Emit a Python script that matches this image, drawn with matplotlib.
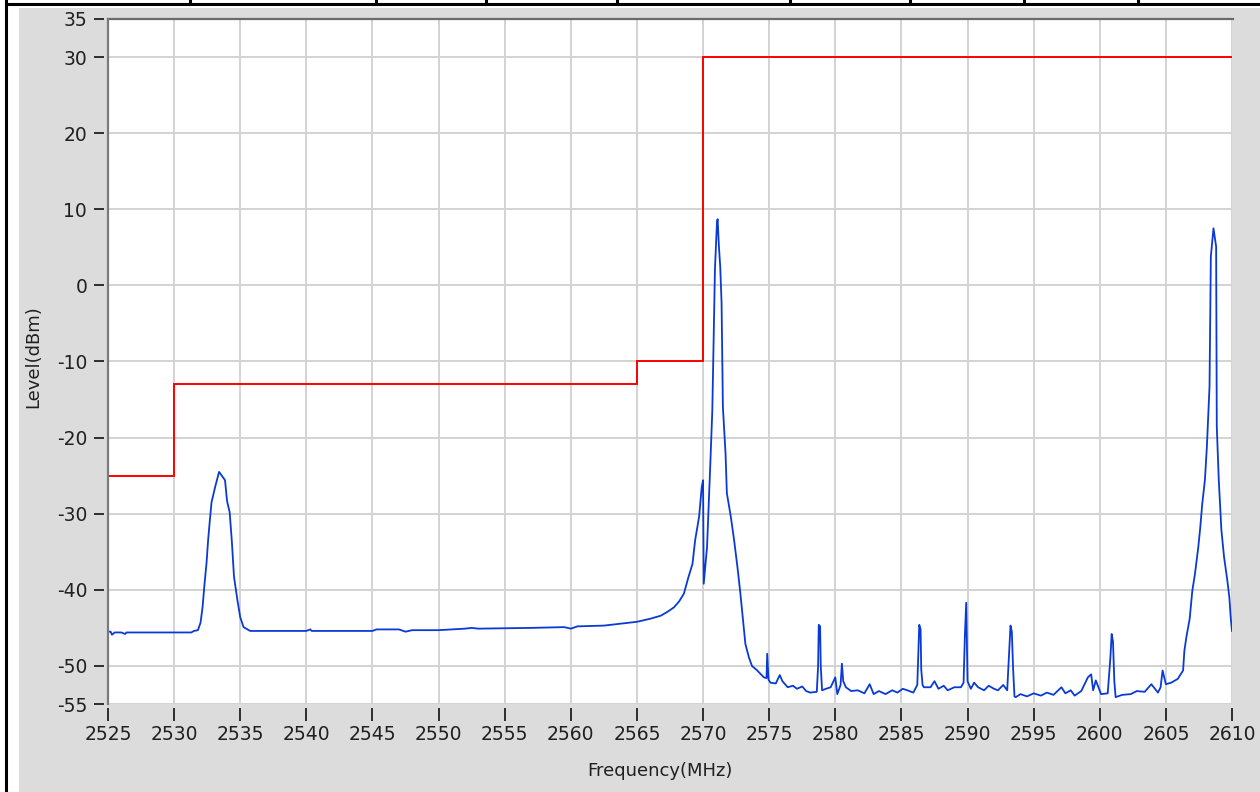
import matplotlib
matplotlib.use("Agg")
import matplotlib.pyplot as plt
from matplotlib.lines import Line2D
from matplotlib.patches import Rectangle

plt.rcParams["axes.unicode_minus"] = False

# ── Data ──────────────────────────────────────────────────────────────
# limit mask (step edges in MHz, level in dBm)
LIMIT_EDGES = [2525, 2530, 2565, 2570, 2610]
LIMIT_LEVELS = [-25, -13, -10, 30]

FREQ = [
    2525.0, 2525.2, 2525.3, 2525.5, 2526.0, 2526.3, 2526.4, 2531.3,
    2531.5, 2531.8, 2532.0, 2532.15, 2532.3, 2532.45, 2532.57, 2532.7, 2532.83,
    2533.1, 2533.4, 2533.6, 2533.85, 2534.0, 2534.2, 2534.36, 2534.53, 2534.79,
    2535.0, 2535.25, 2535.75,
    2540.0, 2540.3, 2540.4, 2545.0, 2545.3, 2547.0, 2547.5, 2548.0, 2550.0,
    2552.0, 2552.5, 2553.0, 2557.0, 2559.5, 2560.0, 2560.5, 2562.5, 2563.5,
    2564.5, 2565.0,
    2565.5, 2566.0, 2566.8, 2567.3, 2567.8, 2568.2, 2568.55, 2568.9, 2569.2,
    2569.4, 2569.7, 2569.9, 2570.0, 2570.05, 2570.3, 2570.4, 2570.55, 2570.7,
    2570.9, 2571.05, 2571.1, 2571.2, 2571.3, 2571.4, 2571.5, 2571.7, 2571.8,
    2572.1, 2572.35, 2572.6, 2572.8, 2573.1, 2573.2, 2573.47, 2573.7, 2574.1,
    2574.6, 2574.8, 2574.85, 2574.95, 2575.1, 2575.5, 2575.8, 2576.0, 2576.4,
    2576.8, 2577.1, 2577.5, 2577.8, 2578.1, 2578.6, 2578.7, 2578.75, 2578.85,
    2578.9, 2579.0, 2579.3, 2579.65, 2580.0, 2580.15, 2580.4, 2580.5, 2580.6,
    2580.8, 2581.2, 2581.7, 2582.2, 2582.6, 2582.9, 2583.3, 2583.8, 2584.3,
    2584.7, 2585.1, 2585.45, 2585.9, 2586.2, 2586.3, 2586.35, 2586.45, 2586.5,
    2586.6, 2586.7, 2587.2, 2587.5, 2587.8, 2588.2, 2588.5, 2589.0, 2589.5,
    2589.7, 2589.8, 2589.9, 2589.95, 2590.0, 2590.25, 2590.5, 2590.8, 2591.25,
    2591.6, 2592.0, 2592.3, 2592.7, 2593.0, 2593.15, 2593.25, 2593.35, 2593.45,
    2593.55, 2593.65, 2594.0, 2594.5, 2595.0, 2595.55, 2596.0, 2596.5, 2597.1,
    2597.4, 2597.8, 2598.1, 2598.6, 2599.1, 2599.35, 2599.5, 2599.7, 2600.1,
    2600.6, 2600.8, 2600.9, 2601.0, 2601.1, 2601.2, 2601.7, 2602.35, 2602.8,
    2603.4, 2603.9, 2604.4, 2604.6, 2604.75, 2605.0, 2605.4, 2605.9, 2606.3,
    2606.4, 2606.55, 2606.8, 2607.0, 2607.2, 2607.45, 2607.6, 2607.75, 2607.95,
    2608.1, 2608.3, 2608.4, 2608.6, 2608.8, 2608.85, 2609.0, 2609.2, 2609.4,
    2609.65, 2609.8, 2609.9, 2610.0,
]
LEVEL = [
    -45.5, -45.5, -45.9, -45.6, -45.6, -45.8, -45.6, -45.6,
    -45.4, -45.3, -44.3, -42.3, -39.2, -36.5, -33.5, -30.9, -28.5,
    -26.5, -24.5, -25.0, -25.6, -28.3, -29.8, -33.5, -38.3, -41.4,
    -43.6, -44.9, -45.4,
    -45.4, -45.2, -45.4, -45.4, -45.2, -45.2, -45.5, -45.3, -45.3,
    -45.1, -45.0, -45.1, -45.0, -44.9, -45.1, -44.8, -44.7, -44.5,
    -44.3, -44.2,
    -44.0, -43.8, -43.4, -42.9, -42.3, -41.5, -40.5, -38.3, -36.6,
    -33.5, -30.4, -26.5, -25.6, -39.2, -34.4, -30.0, -23.4, -16.4,
    2.2, 8.2, 8.7, 5.1, 2.4, -2.3, -16.0, -22.1, -27.3,
    -30.4, -33.5, -37.0, -40.1, -45.4, -47.1, -48.9, -50.0, -50.6,
    -51.5, -51.6, -48.4, -51.8, -52.2, -52.3, -51.2, -52.0, -52.8,
    -52.6, -53.0, -52.7, -53.3, -53.5, -53.4, -50.0, -44.6, -44.8,
    -50.0, -53.2, -53.0, -52.8, -51.5, -53.7, -52.5, -49.7, -52.0,
    -52.8, -53.3, -53.2, -53.6, -52.4, -53.7, -53.3, -53.7, -53.2,
    -53.5, -53.0, -53.2, -53.5, -52.5, -47.5, -44.6, -45.2, -50.5,
    -52.5, -52.8, -52.8, -52.0, -53.0, -52.6, -53.2, -52.8, -52.8,
    -52.2, -46.0, -41.7, -46.5, -52.0, -53.0, -52.2, -52.8, -53.2,
    -52.6, -53.0, -53.2, -52.5, -53.2, -48.0, -44.7, -45.5, -50.5,
    -54.0, -54.1, -53.7, -54.0, -53.6, -53.9, -53.5, -53.8, -52.8,
    -53.6, -53.2, -53.9, -53.3, -51.5, -51.1, -53.2, -51.9, -53.7,
    -53.6, -49.0, -45.8, -46.8, -52.0, -54.1, -53.8, -53.7, -53.3,
    -53.4, -52.4, -53.5, -52.8, -50.6, -52.4, -52.2, -51.7, -50.6,
    -48.0, -46.2, -43.8, -40.1, -37.9, -34.4, -31.8, -28.7, -25.6,
    -21.2, -13.3, 3.8, 7.5, 5.1, -18.6, -25.6, -32.2, -35.7,
    -38.8, -41.0, -43.6, -45.4,
]

X_TICKS = list(range(2525, 2611, 5))
Y_TICKS = [35, 30, 20, 10, 0, -10, -20, -30, -40, -50, -55]

W, H = 1260, 792


def px(x, y):
    """pixel (from top-left) -> figure fraction"""
    return x / W, 1 - y / H


fig = plt.figure(figsize=(W / 100, H / 100), dpi=100, facecolor="white")

# ── Window chrome ─────────────────────────────────────────────────────
gx, gy = px(19, 8)
fig.add_artist(Rectangle((gx, 0), 1 - gx, gy, transform=fig.transFigure,
                         facecolor="#dcdcdc", edgecolor="none", zorder=-5))
# table borders above / left
x0, y0 = px(6, 4)
fig.add_artist(Line2D([x0, 1], [y0, y0], transform=fig.transFigure,
                      color="black", lw=2.2, zorder=-4))
fig.add_artist(Line2D([x0, x0], [0, 1], transform=fig.transFigure,
                      color="black", lw=2.2, zorder=-4))
for cx in [190, 376, 486, 617, 790, 910, 1024, 1138]:
    fx, _ = px(cx, 0)
    fig.add_artist(Line2D([fx, fx], [y0, 1], transform=fig.transFigure,
                          color="black", lw=2.2, zorder=-4))

# ── Plot area ─────────────────────────────────────────────────────────
left, top = px(108, 19)
right, bottom = px(1232, 704)
ax = fig.add_axes([left, bottom, right - left, top - bottom])
ax.set_facecolor("white")

ax.stairs(LIMIT_LEVELS, LIMIT_EDGES, color="#ff0000", lw=1.4, baseline=None, zorder=3)
ax.plot(FREQ, LEVEL, color="#0a3ad6", lw=1.3, zorder=4)

ax.set_xlim(2525, 2610)
ax.set_ylim(-55, 35)
ax.set_xticks(X_TICKS)
ax.set_yticks(Y_TICKS)
ax.grid(True, color="#d3d3d3", lw=1.4, zorder=0)
ax.set_axisbelow(True)

for s in ["top", "right", "bottom", "left"]:
    ax.spines[s].set_visible(False)
# ticks sit a little away from the plot edge
ax.spines["bottom"].set_position(("outward", 3))
ax.spines["left"].set_position(("outward", 3))
ax.tick_params(axis="x", direction="out", length=9, width=1.3, color="#202020",
               pad=3, labelsize=13.5, labelcolor="#202020")
ax.tick_params(axis="y", direction="out", length=7, width=1.3, color="#202020",
               pad=5, labelsize=13.5, labelcolor="#202020")

# frame edges: dark top and left
ax.add_line(Line2D([0, 1.001], [1, 1], transform=ax.transAxes, color="#6a6a6a",
                   lw=1.6, clip_on=False, zorder=6))
ax.add_line(Line2D([0, 0], [0, 1], transform=ax.transAxes, color="#7a7a7a",
                   lw=1.6, clip_on=False, zorder=6))

fig.text(660 / W, 1 - 771 / H, "Frequency(MHz)", ha="center", va="center",
         fontsize=13, color="#202020")
fig.text(33 / W, 1 - 357 / H, "Level(dBm)", ha="center", va="center",
         rotation=90, fontsize=13, color="#202020")

fig.savefig("out.png", dpi=100, facecolor="white")
